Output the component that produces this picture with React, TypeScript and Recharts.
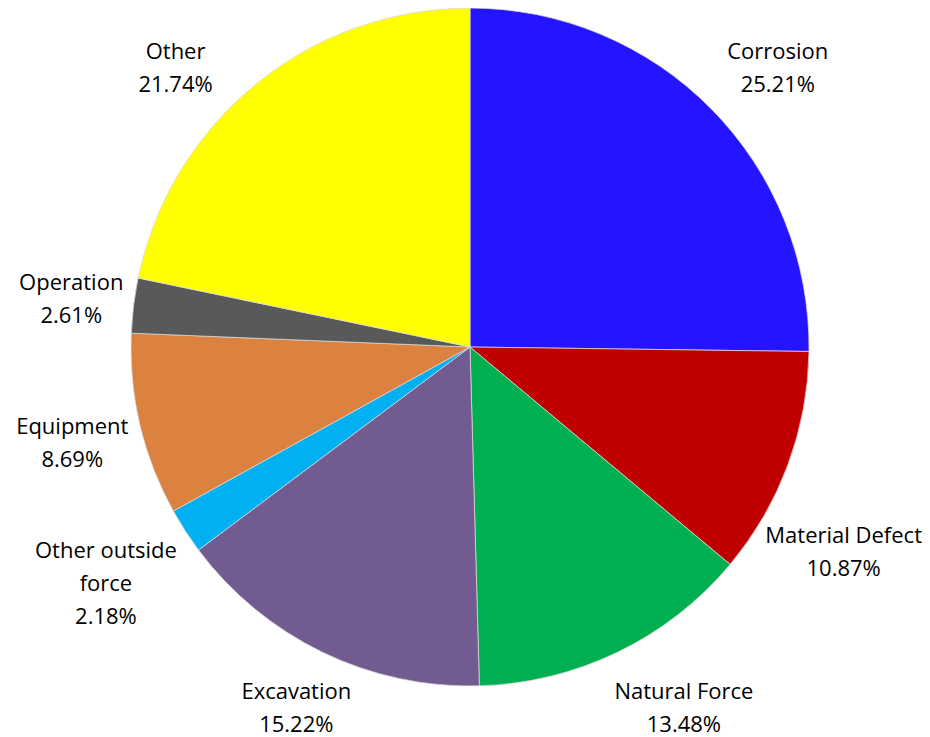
import React from "react";
import { PieChart, Pie, Cell } from "recharts";

const categories = [
  "Corrosion",
  "Material Defect",
  "Natural Force",
  "Excavation",
  "Other outside force",
  "Equipment",
  "Operation",
  "Other",
];
const values = [25.21, 10.87, 13.48, 15.22, 2.18, 8.69, 2.61, 21.74];
const labelLines = [
  ["Corrosion"],
  ["Material Defect"],
  ["Natural Force"],
  ["Excavation"],
  ["Other outside", "force"],
  ["Equipment"],
  ["Operation"],
  ["Other"],
];
const colors = [
  "#2414FF",
  "#C00000",
  "#00B050",
  "#715B91",
  "#00B0F0",
  "#DC8240",
  "#595959",
  "#FFFF00",
];

const data = categories.map((name, i) => ({
  name,
  value: values[i],
  lines: [...labelLines[i], values[i].toFixed(2) + "%"],
}));

// chart sits at the body's 8px margin: fills the rest of the 930x737 window
const W = 922;
const H = 729;
const FONT_SIZE = 22;
const FONT = "'Open Sans', sans-serif";
const LH = 33;
const RAD = Math.PI / 180;

let ctx: CanvasRenderingContext2D | null = null;
const measure = (t: string) => {
  if (typeof document === "undefined") return t.length * FONT_SIZE * 0.55;
  if (!ctx) {
    ctx = document.createElement("canvas").getContext("2d");
  }
  if (!ctx) return t.length * FONT_SIZE * 0.55;
  ctx.font = `${FONT_SIZE}px ${FONT}`;
  return ctx.measureText(t).width;
};

const boxDist = (x: number, y: number, w: number, h: number) => {
  const px = Math.max(x - w / 2, Math.min(0, x + w / 2));
  const py = Math.max(y - h / 2, Math.min(0, y + h / 2));
  return Math.hypot(px, py);
};

const renderLabel = (props: any) => {
  const { cx, cy, midAngle, outerRadius, index } = props;
  const lines: string[] = data[index].lines;
  const w = Math.max(...lines.map(measure));
  const h = lines.length * LH;
  const target = outerRadius + 8;
  const dx = Math.cos(-midAngle * RAD);
  const dy = Math.sin(-midAngle * RAD);
  let lo = 0;
  let hi = outerRadius + 400;
  for (let k = 0; k < 60; k++) {
    const m = (lo + hi) / 2;
    if (boxDist(m * dx, m * dy, w, h) < target) lo = m;
    else hi = m;
  }
  let x = hi * dx;
  let y = hi * dy;
  const minX = w / 2 + 4 - cx;
  const maxX = W - w / 2 - 8 - cx;
  const minY = 42 - LH / 2 + h / 2 - cy;
  const maxY = 715 + LH / 2 - h / 2 - cy;
  let clampedX = false;
  let clampedY = false;
  if (x < minX) { x = minX; clampedX = true; }
  if (x > maxX) { x = maxX; clampedX = true; }
  if (y < minY) { y = minY; clampedY = true; }
  if (y > maxY) { y = maxY; clampedY = true; }
  if (clampedY && !clampedX) {
    const t2 = outerRadius + 18;
    if (boxDist(x, y, w, h) < t2) {
      const s = Math.sign(dx) || 1;
      let a = Math.abs(x);
      let b = W;
      for (let k = 0; k < 60; k++) {
        const m = (a + b) / 2;
        if (boxDist(s * m, y, w, h) < t2) a = m;
        else b = m;
      }
      x = s * b;
    }
  } else if (clampedX) {
    const t2 = outerRadius + 2;
    const s = Math.sign(dy) || 1;
    let a = 0;
    let b = H;
    for (let k = 0; k < 60; k++) {
      const m = (a + b) / 2;
      if (boxDist(x, s * m, w, h) < t2) a = m;
      else b = m;
    }
    y = s * b;
  }
  const X = cx + x;
  const Y = cy + y;
  return (
    <text
      x={X}
      y={Y}
      textAnchor="middle"
      fill="#000"
      fontFamily={FONT}
      fontSize={FONT_SIZE}
    >
      {lines.map((l, i) => (
        <tspan
          key={i}
          x={X}
          y={Y + (i - (lines.length - 1) / 2) * LH}
          dominantBaseline="central"
        >
          {l}
        </tspan>
      ))}
    </text>
  );
};

export default function App() {
  return (
    <div style={{ width: W, height: H, background: "#fff" }}>
      <PieChart
        width={W}
        height={H}
        margin={{ top: 0, right: 0, bottom: 0, left: 0 }}
      >
        <Pie
          data={data}
          dataKey="value"
          nameKey="name"
          cx={462}
          cy={339}
          outerRadius={339}
          startAngle={90}
          endAngle={-270}
          stroke="#d9d9d9"
          strokeWidth={0.75}
          label={renderLabel}
          labelLine={false}
          isAnimationActive={false}
        >
          {data.map((d, i) => (
            <Cell key={d.name} fill={colors[i]} />
          ))}
        </Pie>
      </PieChart>
    </div>
  );
}
